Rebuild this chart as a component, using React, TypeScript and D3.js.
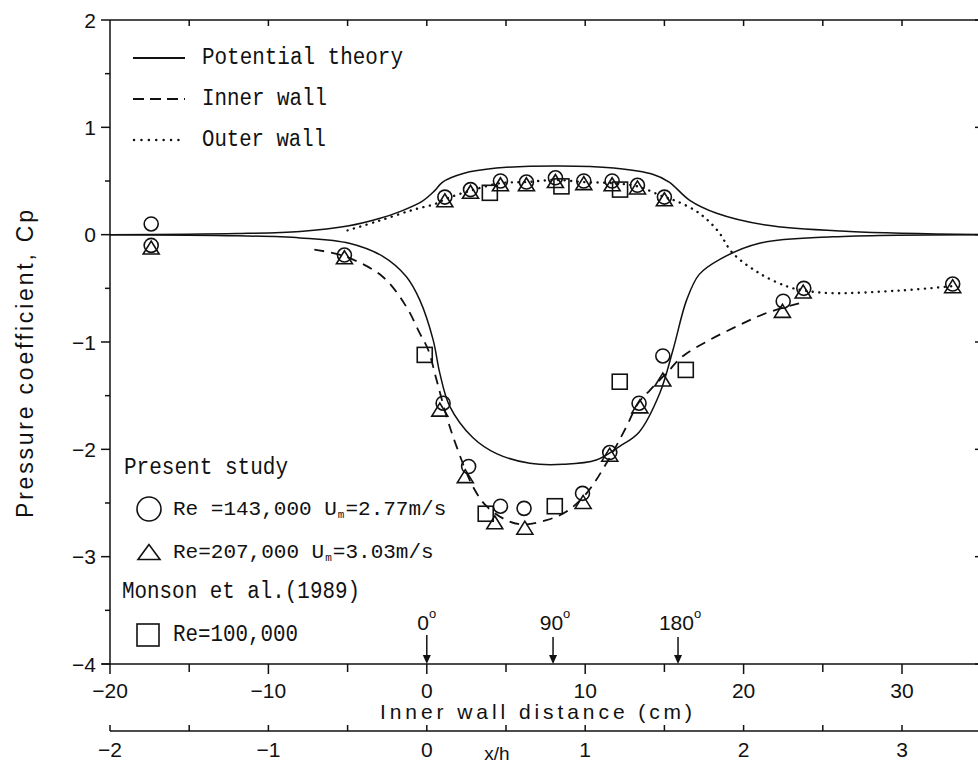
import React from 'react';
import * as d3 from 'd3';

// ---- Curves (x: inner wall distance in cm, y: Cp) ----
const potOuterX = [-20, -12, -8, -5, -3, -1.7, -0.3, 0.5, 1.0, 2.3, 4.4, 8.4, 11.8, 14.3, 15.3, 16.6, 18.3, 21.4, 26.7, 35.5];
const potOuterY = [0, 0.01, 0.03, 0.08, 0.15, 0.215, 0.31, 0.41, 0.49, 0.57, 0.62, 0.64, 0.62, 0.56, 0.49, 0.32, 0.2, 0.09, 0.03, 0];

const potInnerX = [-20, -12, -8, -4.9, -2.8, -1.3, -0.44, 0.4, 0.82, 1.45, 2.9, 4.4, 6.5, 8.6, 10.7, 12.2, 13.4, 14.7, 15.55, 16.4, 17.2, 18.5, 21.0, 25.6, 35.5];
const potInnerY = [0, -0.01, -0.03, -0.08, -0.2, -0.39, -0.61, -0.98, -1.29, -1.6, -1.89, -2.04, -2.13, -2.14, -2.1, -1.97, -1.84, -1.48, -1.07, -0.61, -0.37, -0.23, -0.08, -0.02, 0];

const innerWallX = [-7.1, -5.2, -2.8, -1.3, -0.44, 0.08, 0.61, 1.24, 1.87, 2.92, 3.77, 5.03, 6.08, 7.56, 8.82, 10.08, 11.34, 12.6, 13.34, 14.08, 15.13, 16.18, 17.87, 19.76, 21.44, 23.76];
const innerWallY = [-0.14, -0.2, -0.39, -0.67, -0.92, -1.07, -1.35, -1.69, -1.97, -2.35, -2.53, -2.66, -2.7, -2.66, -2.58, -2.41, -2.13, -1.79, -1.57, -1.45, -1.29, -1.13, -0.98, -0.84, -0.73, -0.63];

const outerWallX = [-5, -3, -0.9, 0.6, 1.14, 2.76, 4.65, 6.29, 8.12, 9.91, 11.7, 13.3, 15.0, 15.8, 17.2, 18.4, 19.3, 21.0, 22.7, 23.8, 25.6, 29.9, 33.2];
const outerWallY = [0.04, 0.13, 0.23, 0.29, 0.33, 0.41, 0.48, 0.49, 0.51, 0.49, 0.48, 0.45, 0.35, 0.31, 0.2, 0.03, -0.17, -0.36, -0.48, -0.52, -0.545, -0.52, -0.48];

// ---- Measurements ----
const circleX = [-17.4, 1.14, 2.76, 4.65, 6.29, 8.12, 9.91, 11.7, 13.3, 15.0, 23.8, 33.2, -17.4, -5.2, 1.03, 2.64, 4.65, 6.14, 9.83, 11.55, 13.4, 14.9, 22.5];
const circleY = [0.10, 0.35, 0.42, 0.5, 0.49, 0.53, 0.5, 0.5, 0.46, 0.35, -0.5, -0.46, -0.1, -0.19, -1.57, -2.16, -2.53, -2.55, -2.41, -2.03, -1.57, -1.13, -0.62];

const triX = [-17.4, 1.14, 2.76, 4.65, 6.29, 8.12, 9.91, 11.7, 13.3, 15.0, 23.76, 33.2, -5.2, 0.82, 2.43, 4.29, 6.19, 9.87, 11.55, 13.45, 14.9, 22.45];
const triY = [-0.12, 0.32, 0.4, 0.47, 0.47, 0.5, 0.48, 0.47, 0.44, 0.33, -0.53, -0.48, -0.21, -1.63, -2.25, -2.68, -2.73, -2.49, -2.05, -1.6, -1.35, -0.71];

const squareX = [3.98, 8.5, 12.2, -0.13, 3.72, 8.08, 12.18, 16.35];
const squareY = [0.39, 0.45, 0.42, -1.12, -2.6, -2.53, -1.37, -1.26];

// ---- Axes ----
const xTicks = [-20, -10, 0, 10, 20, 30];
const yTicks = [-4, -3, -2, -1, 0, 1, 2];
const xhTicks = [-2, -1, 0, 1, 2, 3];
const angleX = [0, 7.97, 15.86];
const angleLabels = ['0', '90', '180'];

const zip = (a: number[], b: number[]) => a.map((v, i) => [v, b[i]] as [number, number]);
const fmt = (v: number) => (v < 0 ? '\u2212' + Math.abs(v) : String(v));

export default function App() {
  const W = 978, H = 762;
  const x = d3.scaleLinear().domain([-20, 30]).range([110, 902]);
  const y = d3.scaleLinear().domain([-4, 2]).range([664, 20]);
  const xh = d3.scaleLinear().domain([-2, 3]).range([110, 902]);
  const line = d3.line<[number, number]>().x(d => x(d[0])).y(d => y(d[1])).curve(d3.curveCatmullRom.alpha(0.5));
  const ink = '#111';
  const x0 = x(-20), yBot = y(-4), yTop = y(2);
  const sans = 'Liberation Sans, Arial, sans-serif';
  const mono = 'Liberation Mono, monospace';

  const topTicks = d3.range(-15, 40, 5);
  const botTicks = d3.range(-20, 40, 5);
  const yMinor = d3.range(-3.5, 2, 1);
  const xhMinor = d3.range(-2, 3.6, 0.5);

  const tri = (cx: number, cy: number, s: number, h: number) =>
    `M${cx},${cy - h / 2}L${cx - s / 2},${cy + h / 2}L${cx + s / 2},${cy + h / 2}Z`;

  const reLine = (x1: number, yy: number, a: string, b: string) => (
    <text x={x1} y={yy} dominantBaseline="central" fontSize={21}>
      {a}
      <tspan fontSize={11} dx={1} dy={6}>m</tspan>
      <tspan dx={1} dy={-6}>{b}</tspan>
    </text>
  );

  return (
    <div style={{ position: 'absolute', left: 0, top: 0 }}>
      <svg width={W} height={H} style={{ display: 'block', background: '#fff' }}>
        <rect width={W} height={H} fill="#fff" />
        {/* frame */}
        <g stroke={ink} strokeWidth={1.5} fill="none">
          <line x1={x0} y1={yTop} x2={x0} y2={yBot} />
          <line x1={x0} y1={yTop} x2={990} y2={yTop} />
          <line x1={x0 - 8} y1={yBot} x2={990} y2={yBot} />
          <line x1={983} y1={yTop} x2={983} y2={yBot} />
          {topTicks.map(t => <line key={'tt' + t} x1={x(t)} y1={yTop} x2={x(t)} y2={yTop + 6} />)}
          {botTicks.map(t => <line key={'bt' + t} x1={x(t)} y1={yBot} x2={x(t)} y2={yBot + (t % 10 === 0 ? 10 : 8)} />)}
          {yTicks.map(t => <line key={'yt' + t} x1={x0 - 9} y1={y(t)} x2={x0} y2={y(t)} />)}
          {yTicks.map(t => <line key={'rt' + t} x1={975} y1={y(t)} x2={983} y2={y(t)} />)}
          {yMinor.map(t => <line key={'ym' + t} x1={x0 - 5} y1={y(t)} x2={x0} y2={y(t)} />)}
          {/* x/h axis */}
          <line x1={xh(-2)} y1={731} x2={990} y2={731} />
          {xhMinor.map(t => <line key={'xh' + t} x1={xh(t)} y1={731} x2={xh(t)} y2={725} />)}
        </g>
        {/* tick labels */}
        <g fill={ink} fontFamily={sans} fontSize={21}>
          {xTicks.map(t => (
            <text key={'xl' + t} x={x(t)} y={690} textAnchor="middle" dominantBaseline="central">{fmt(t)}</text>
          ))}
          {yTicks.map(t => (
            <text key={'yl' + t} x={96} y={y(t)} textAnchor="end" dominantBaseline="central">{fmt(t)}</text>
          ))}
          {xhTicks.map(t => (
            <text key={'hl' + t} x={xh(t)} y={749} textAnchor="middle" dominantBaseline="central">{fmt(t)}</text>
          ))}
        </g>
        <text x={536} y={711} fill={ink} fontFamily={sans} fontSize={21} textAnchor="middle" dominantBaseline="central" textLength={312} lengthAdjust="spacing">Inner wall distance (cm)</text>
        <text x={497} y={753} fill={ink} fontFamily={sans} fontSize={19} textAnchor="middle" dominantBaseline="central">x/h</text>
        <text transform="translate(33,364) rotate(-90)" fill={ink} fontFamily={sans} fontSize={23} textAnchor="middle" textLength={308} lengthAdjust="spacing">Pressure coefficient, Cp</text>

        {/* angle arrows */}
        {angleX.map((a, i) => {
          const ax = x(a);
          const top = i === 0 ? 635 : 637;
          return (
            <g key={'ang' + i}>
              <line x1={ax} y1={top} x2={ax} y2={yBot - 6} stroke={ink} strokeWidth={1.5} />
              <path d={`M${ax - 4},${yBot - 9}L${ax + 4},${yBot - 9}L${ax},${yBot}Z`} fill={ink} />
              <text x={ax + (i === 0 ? 0 : 2)} y={622} fill={ink} fontFamily={sans} fontSize={21} textAnchor="middle" dominantBaseline="central">
                {angleLabels[i]}
                <tspan fontSize={13} dy={-9}>o</tspan>
              </text>
            </g>
          );
        })}

        {/* curves */}
        <g fill="none" stroke={ink}>
          <path d={line(zip(potOuterX, potOuterY)) || ''} strokeWidth={1.5} />
          <path d={line(zip(potInnerX, potInnerY)) || ''} strokeWidth={1.5} />
          <path d={line(zip(innerWallX, innerWallY)) || ''} strokeWidth={1.8} strokeDasharray="10 7" />
          <path d={line(zip(outerWallX, outerWallY)) || ''} strokeWidth={2.4} strokeDasharray="0.1 6.5" strokeLinecap="round" />
        </g>

        {/* markers */}
        <g fill="none" stroke={ink} strokeWidth={1.6}>
          {circleX.map((v, i) => <circle key={'c' + i} cx={x(v)} cy={y(circleY[i])} r={7} />)}
          {triX.map((v, i) => <path key={'t' + i} d={tri(x(v), y(triY[i]), 16, 13)} />)}
          {squareX.map((v, i) => <rect key={'s' + i} x={x(v) - 7.5} y={y(squareY[i]) - 7.5} width={15} height={15} />)}
        </g>

        {/* legend top */}
        <g stroke={ink} fill="none">
          <line x1={133} y1={58} x2={185} y2={58} strokeWidth={1.8} />
          <line x1={133} y1={99} x2={185} y2={99} strokeWidth={2} strokeDasharray="11 6" />
          <line x1={134} y1={140} x2={185} y2={140} strokeWidth={2.4} strokeDasharray="0.1 7.3" strokeLinecap="round" />
        </g>
        <g fill={ink} fontFamily={mono} fontSize={23}>
          <text x={202} y={58} dominantBaseline="central" textLength={201} lengthAdjust="spacingAndGlyphs">Potential theory</text>
          <text x={202} y={99} dominantBaseline="central" textLength={125} lengthAdjust="spacingAndGlyphs">Inner wall</text>
          <text x={202} y={140} dominantBaseline="central" textLength={124} lengthAdjust="spacingAndGlyphs">Outer wall</text>
          <text x={124} y={468} dominantBaseline="central" textLength={164} lengthAdjust="spacingAndGlyphs">Present study</text>
          {reLine(173, 509, 'Re =143,000 U', '=2.77m/s')}
          {reLine(173, 552, 'Re=207,000 U', '=3.03m/s')}
          <text x={122} y={592} dominantBaseline="central" textLength={238} lengthAdjust="spacingAndGlyphs">Monson et al.(1989)</text>
          <text x={173} y={635} dominantBaseline="central" textLength={125} lengthAdjust="spacingAndGlyphs">Re=100,000</text>
        </g>
        <g fill="none" stroke={ink} strokeWidth={1.6}>
          <circle cx={149} cy={509} r={12} />
          <path d={tri(149, 552, 22, 15)} />
          <rect x={137} y={624} width={22} height={22} />
        </g>
      </svg>
    </div>
  );
}
